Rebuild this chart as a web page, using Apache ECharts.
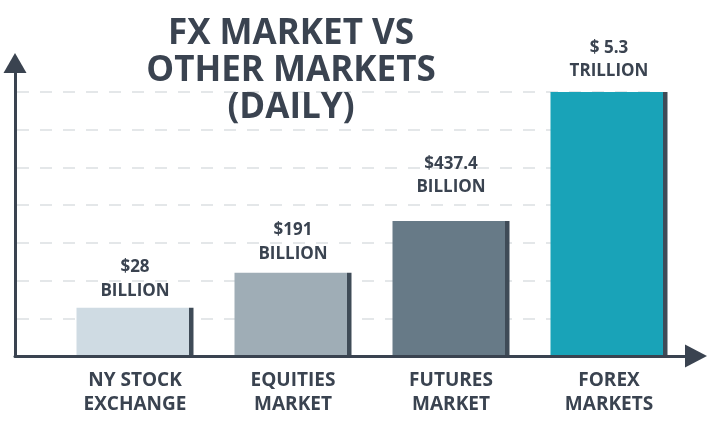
<!DOCTYPE html>
<html>
<head>
<meta charset="utf-8">
<script src="https://cdn.jsdelivr.net/npm/echarts@6/dist/echarts.min.js"></script>
<style>
  html, body { margin: 0; padding: 0; background: #fff; }
  #chart { width: 711px; height: 432px; }
</style>
</head>
<body>
<div id="chart"></div>
<script>
// markets on the x axis
var categories = ['NY STOCK\nEXCHANGE', 'EQUITIES\nMARKET', 'FUTURES\nMARKET', 'FOREX\nMARKETS'];
// bar heights as drawn (the picture is not to scale), in grid steps
var barHeights = [1.28, 2.21, 3.58, 7.0];
// daily volume text above each bar
var valueLabels = ['$28\nBILLION', '$191\nBILLION', '$437.4\nBILLION', '$ 5.3\nTRILLION'];

var barColors = ['#cfdbe3', '#9fadb6', '#677a87', '#19a3b8'];
var edgeColor = '#3f4b57';
var labelGap = [5, 7, 22, 9];
var ink = '#3a4350';

var myChart = echarts.init(document.getElementById('chart'));

function barFill(c) {
  return new echarts.graphic.LinearGradient(0, 0, 1, 0, [
    { offset: 0, color: c },
    { offset: 0.965, color: c },
    { offset: 0.965, color: edgeColor },
    { offset: 1, color: edgeColor }
  ]);
}

var option = {
  backgroundColor: '#fff',
  animation: false,
  title: {
    text: 'FX MARKET VS\nOTHER MARKETS\n(DAILY)',
    left: 286,
    top: 11,
    textAlign: 'center',
    textStyle: {
      fontFamily: 'Open Sans',
      fontWeight: 'bold',
      fontSize: 35,
      lineHeight: 37,
      color: ink
    }
  },
  grid: [
    // bars
    { left: 56, right: 23, top: 92, bottom: 76 },
    // dashed guide lines
    { left: 17, right: 51, top: 92, bottom: 76 },
    // arrow axes
    { left: 15, right: 15, top: 63, bottom: 76 }
  ],
  xAxis: [
    {
      gridIndex: 0,
      type: 'category',
      data: categories,
      axisLine: { show: false },
      axisTick: { show: false },
      axisLabel: {
        margin: 13,
        fontFamily: 'Open Sans',
        fontWeight: 'bold',
        fontSize: 19,
        lineHeight: 24,
        color: ink
      }
    },
    { gridIndex: 1, type: 'value', show: false, min: 0, max: 1 },
    {
      gridIndex: 2,
      type: 'value',
      min: 0,
      max: 1,
      z: 5,
      axisLine: {
        onZero: false,
        symbol: ['none', 'triangle'],
        symbolSize: [23, 22],
        lineStyle: { color: ink, width: 3 }
      },
      axisTick: { show: false },
      axisLabel: { show: false },
      splitLine: { show: false }
    }
  ],
  yAxis: [
    { gridIndex: 0, type: 'value', min: 0, max: 7, show: false },
    {
      gridIndex: 1,
      type: 'value',
      min: 0,
      max: 7,
      interval: 1,
      axisLine: { show: false },
      axisTick: { show: false },
      axisLabel: { show: false },
      splitLine: {
        show: true,
        lineStyle: { color: '#dcdfe2', width: 1.5, type: [12, 11] }
      }
    },
    {
      gridIndex: 2,
      type: 'value',
      min: 0,
      max: 1,
      z: 5,
      axisLine: {
        onZero: false,
        symbol: ['none', 'triangle'],
        symbolSize: [23, 20],
        lineStyle: { color: ink, width: 3 }
      },
      axisTick: { show: false },
      axisLabel: { show: false },
      splitLine: { show: false }
    }
  ],
  series: [
    {
      type: 'bar',
      xAxisIndex: 0,
      yAxisIndex: 0,
      barWidth: 117,
      data: barHeights.map(function (h, i) {
        return {
          value: h,
          itemStyle: { color: barFill(barColors[i]) },
          label: { distance: labelGap[i] }
        };
      }),
      label: {
        show: true,
        position: 'top',
        formatter: function (p) { return valueLabels[p.dataIndex]; },
        fontFamily: 'Open Sans',
        fontWeight: 'bold',
        fontSize: 17,
        lineHeight: 23.5,
        color: ink
      }
    }
  ]
};

myChart.setOption(option);
</script>
</body>
</html>
